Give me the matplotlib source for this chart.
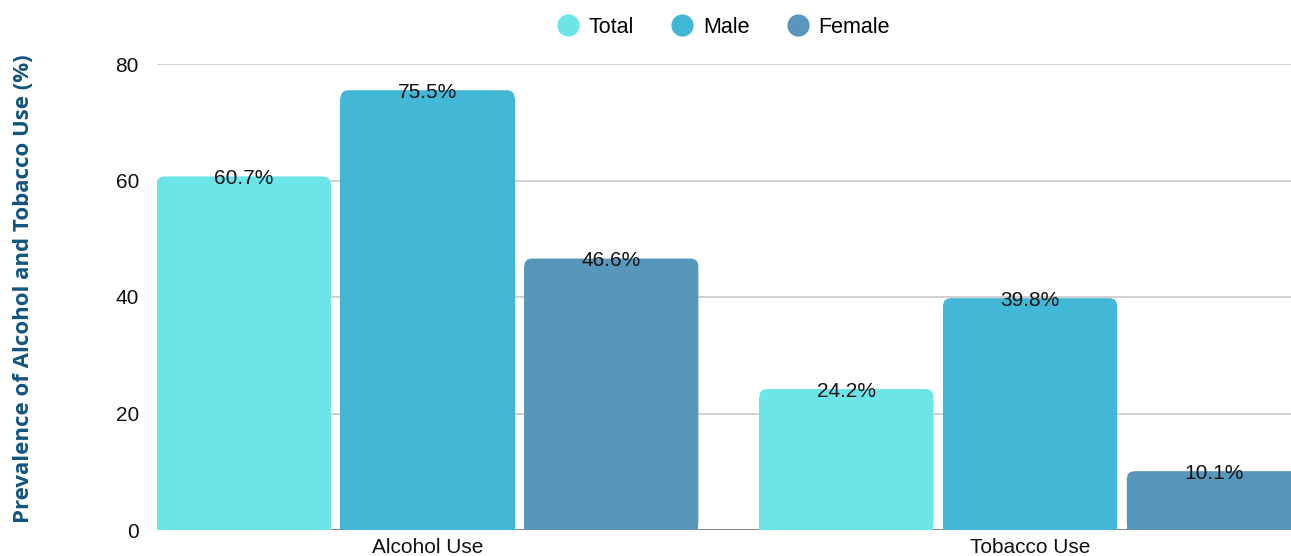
import matplotlib
matplotlib.use("Agg")
import matplotlib.pyplot as plt
from matplotlib.patches import FancyBboxPatch, Rectangle
from matplotlib.lines import Line2D
import numpy as np

plt.rcParams['font.family'] = ['Liberation Sans', 'DejaVu Sans']

categories = ['Alcohol Use', 'Tobacco Use']
series = ['Total', 'Male', 'Female']
total = [60.7, 24.2]
male = [75.5, 39.8]
female = [46.6, 10.1]
colors = ['#6ce5e8', '#42b7d6', '#5996bb']

W, H = 1291, 556
fig = plt.figure(figsize=(W / 100, H / 100), dpi=100)
ax_left, ax_bottom, ax_right, ax_top = 157, 530, 1291, 64
ax = fig.add_axes([ax_left / W, (H - ax_bottom) / H,
                   (ax_right - ax_left) / W, (ax_bottom - ax_top) / H])

x = np.arange(len(categories))
bar_w = 0.289
step = 0.305
xmin, xmax = -0.449, 1.433
ymin, ymax = 0, 80
ax.set_xlim(xmin, xmax)
ax.set_ylim(ymin, ymax)

# pixel scale, used to keep the rounded corners circular
px_x = (ax_right - ax_left) / (xmax - xmin)
px_y = (ax_bottom - ax_top) / (ymax - ymin)
radius_px = 8
rx = radius_px / px_x
ry = radius_px / px_y

for i, (name, vals, col) in enumerate(zip(series, [total, male, female], colors)):
    for xc, v in zip(x + (i - 1) * step, vals):
        x0 = xc - bar_w / 2
        top = FancyBboxPatch((x0, 0), bar_w, v,
                             boxstyle=f"round,pad=0,rounding_size={rx}",
                             mutation_aspect=ry / rx,
                             facecolor=col, edgecolor='none', zorder=3)
        ax.add_patch(top)
        # square off the bottom corners
        ax.add_patch(Rectangle((x0, 0), bar_w, v - ry, facecolor=col,
                               edgecolor='none', zorder=3))
        ax.annotate(f'{v}%', (xc, v), xytext=(0, -2), textcoords='offset pixels',
                    ha='center', va='center', fontsize=15, color='#111111', zorder=5)

ax.set_yticks([0, 20, 40, 60, 80])
ax.set_xticks(x)
ax.set_xticklabels(categories)
ax.tick_params(axis='y', length=0, labelsize=15, pad=13, colors='#111111')
ax.tick_params(axis='x', length=0, labelsize=15, pad=6, colors='#111111')
ax.grid(axis='y', color='#c8c8c8', linewidth=1.2, zorder=0)
ax.set_axisbelow(True)
for s in ax.spines.values():
    s.set_visible(False)
ax.axhline(0, color='#777777', linewidth=1.2, zorder=2)

fig.text(24 / W, 1 - 289 / H, 'Prevalence of Alcohol and Tobacco Use (%)',
         rotation=90, ha='center', va='center', fontsize=16,
         fontweight='bold', family='Open Sans', color='#11557f')

handles = [Line2D([], [], linestyle='none', marker='o', markersize=16,
                  markerfacecolor=c, markeredgecolor='none') for c in colors]
fig.legend(handles, series, loc='center', bbox_to_anchor=(0.5605, 1 - 27.5 / H),
           ncol=3, frameon=False, fontsize=15.5, handlelength=1.0,
           handletextpad=0.45, columnspacing=1.75)

fig.savefig('out.png', dpi=100)
